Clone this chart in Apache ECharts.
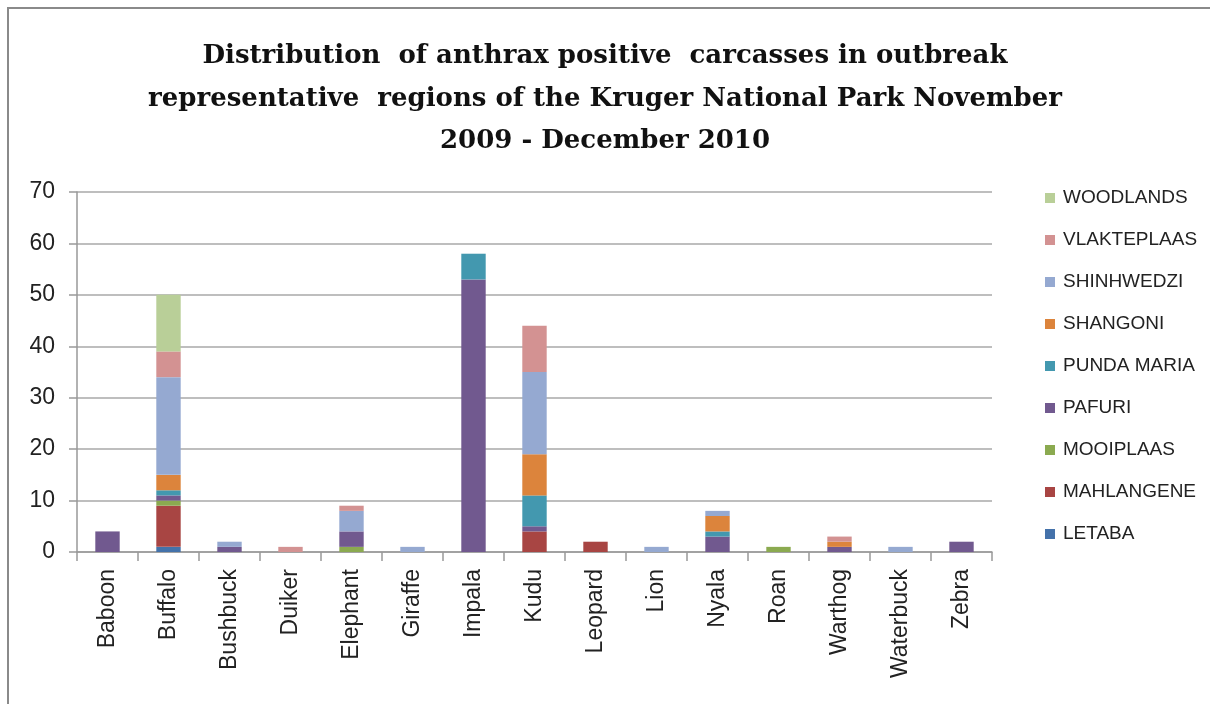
<!DOCTYPE html>
<html>
<head>
<meta charset="utf-8">
<script src="https://cdn.jsdelivr.net/npm/echarts@6/dist/echarts.min.js"></script>
<style>
html,body{margin:0;padding:0;background:#fff;overflow:hidden;}
#frame{position:absolute;left:7px;top:7px;width:1220px;height:720px;border:2px solid #8a8a8a;box-sizing:border-box;}
#chart{position:absolute;left:0;top:0;width:1210px;height:704px;}
</style>
</head>
<body>
<div id="frame"></div>
<div id="chart"></div>
<script>
const titleLines = [
  "Distribution  of anthrax positive  carcasses in outbreak",
  "representative  regions of the Kruger National Park November",
  "2009 - December 2010"
];
const categories = ["Baboon","Buffalo","Bushbuck","Duiker","Elephant","Giraffe","Impala","Kudu","Leopard","Lion","Nyala","Roan","Warthog","Waterbuck","Zebra"];
const yTicks = [0,10,20,30,40,50,60,70];

const letaba      = [0,1,0,0,0,0,0,0,0,0,0,0,0,0,0];
const mahlangene  = [0,8,0,0,0,0,0,4,2,0,0,0,0,0,0];
const mooiplaas   = [0,1,0,0,1,0,0,0,0,0,0,1,0,0,0];
const pafuri      = [4,1,1,0,3,0,53,1,0,0,3,0,1,0,2];
const pundaMaria  = [0,1,0,0,0,0,5,6,0,0,1,0,0,0,0];
const shangoni    = [0,3,0,0,0,0,0,8,0,0,3,0,1,0,0];
const shinhwedzi  = [0,19,1,0,4,1,0,16,0,1,1,0,0,1,0];
const vlakteplaas = [0,5,0,1,1,0,0,9,0,0,0,0,1,0,0];
const woodlands   = [0,11,0,0,0,0,0,0,0,0,0,0,0,0,0];

const seriesNames = ["LETABA","MAHLANGENE","MOOIPLAAS","PAFURI","PUNDA MARIA","SHANGONI","SHINHWEDZI","VLAKTEPLAAS","WOODLANDS"];
const seriesData = [letaba,mahlangene,mooiplaas,pafuri,pundaMaria,shangoni,shinhwedzi,vlakteplaas,woodlands];
const colors = ["#4472AA","#A84543","#8BAA50","#71598F","#4398AF","#DC843C","#95A9D1","#D39292","#B9CF98"];

const chart = echarts.init(document.getElementById('chart'));
chart.setOption({
  animation:false,
  title:{
    text: titleLines.join("\n"),
    left:'center', top:30,
    textStyle:{fontFamily:'DejaVu Serif', fontWeight:'bold', fontSize:26, lineHeight:42.5, color:'#111'}
  },
  legend:{
    orient:'vertical', left:1040, top:183,
    data: seriesNames.slice().reverse(),
    itemWidth:10, itemHeight:10, itemGap:22,
    icon:'rect',
    textStyle:{fontFamily:'Liberation Sans', fontSize:19, lineHeight:20, color:'#222', padding:[0,0,0,3]}
  },
  grid:{left:77, right:218, top:192, bottom:152, containLabel:false},
  xAxis:{
    type:'category', data:categories,
    axisLine:{lineStyle:{color:'#999', width:1.5}},
    axisTick:{show:true, length:9, lineStyle:{color:'#999', width:1.5}},
    axisLabel:{rotate:90, margin:17, fontFamily:'Liberation Sans', fontSize:23, color:'#222', interval:0}
  },
  yAxis:{
    type:'value', min:0, max:70, interval:10,
    axisLine:{show:true, lineStyle:{color:'#999', width:1.5}},
    axisTick:{show:true, length:8, lineStyle:{color:'#999', width:1.5}},
    axisLabel:{margin:22, fontFamily:'Liberation Sans', fontSize:23, color:'#222',
      formatter:v=>yTicks.includes(v)?String(v):''},
    splitLine:{lineStyle:{color:'#A8A8A8', width:1.5}}
  },
  series: seriesNames.map((n,i)=>({
    name:n, type:'bar', stack:'total', data:seriesData[i],
    barWidth:'40%',
    itemStyle:{color:colors[i]}
  }))
});
</script>
</body>
</html>
